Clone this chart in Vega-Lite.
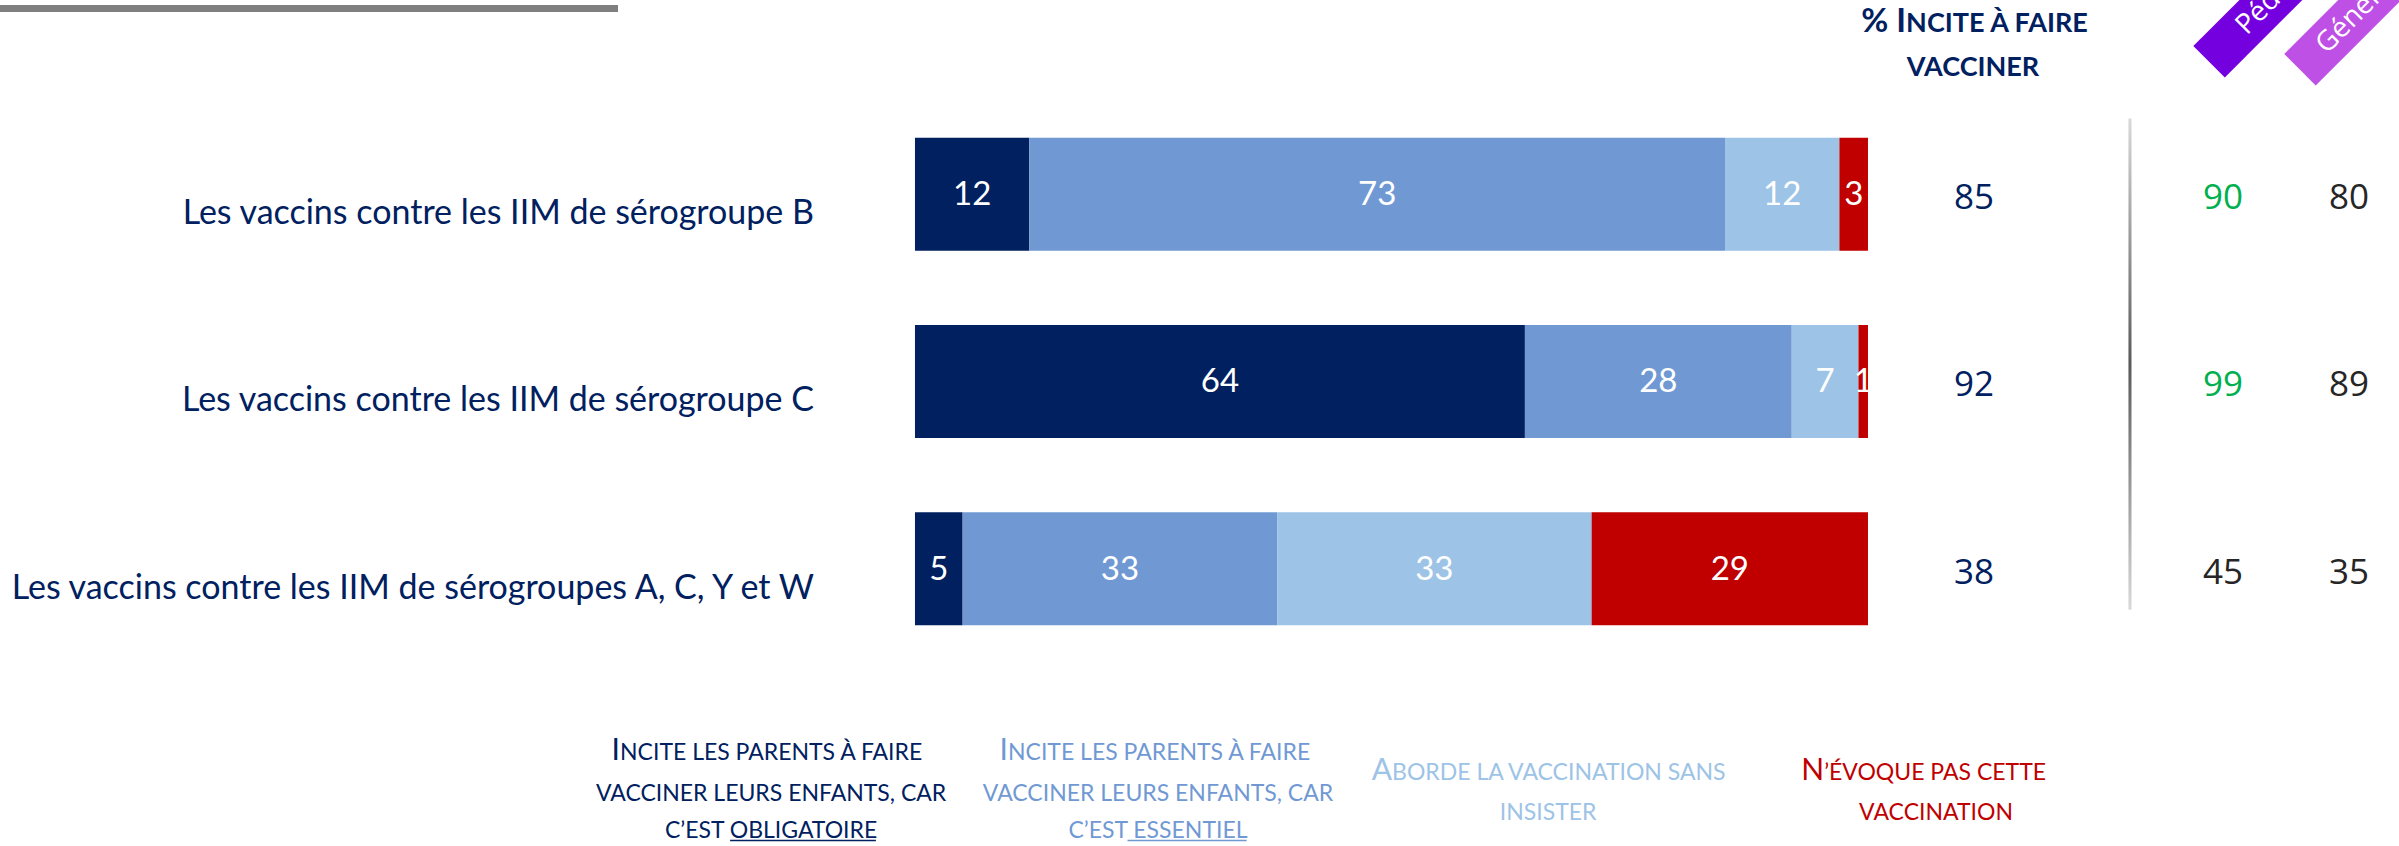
{
  "$schema": "https://vega.github.io/schema/vega-lite/v6.json",
  "width": 2399,
  "height": 846,
  "autosize": "none",
  "padding": 0,
  "background": "white",
  "config": {"view": {"stroke": null}, "axis": {"disable": true}},
  "datasets": {
    "segments": [
      {"cat": "Les vaccins contre les IIM de sérogroupe B", "row": 1, "seg": "Obligatoire", "ord": 1, "value": 12},
      {"cat": "Les vaccins contre les IIM de sérogroupe B", "row": 1, "seg": "Essentiel", "ord": 2, "value": 73},
      {"cat": "Les vaccins contre les IIM de sérogroupe B", "row": 1, "seg": "Sans insister", "ord": 3, "value": 12},
      {"cat": "Les vaccins contre les IIM de sérogroupe B", "row": 1, "seg": "N'évoque pas", "ord": 4, "value": 3},
      {"cat": "Les vaccins contre les IIM de sérogroupe C", "row": 2, "seg": "Obligatoire", "ord": 1, "value": 64},
      {"cat": "Les vaccins contre les IIM de sérogroupe C", "row": 2, "seg": "Essentiel", "ord": 2, "value": 28},
      {"cat": "Les vaccins contre les IIM de sérogroupe C", "row": 2, "seg": "Sans insister", "ord": 3, "value": 7},
      {"cat": "Les vaccins contre les IIM de sérogroupe C", "row": 2, "seg": "N'évoque pas", "ord": 4, "value": 1},
      {"cat": "Les vaccins contre les IIM de sérogroupes A, C, Y et W", "row": 3, "seg": "Obligatoire", "ord": 1, "value": 5},
      {"cat": "Les vaccins contre les IIM de sérogroupes A, C, Y et W", "row": 3, "seg": "Essentiel", "ord": 2, "value": 33},
      {"cat": "Les vaccins contre les IIM de sérogroupes A, C, Y et W", "row": 3, "seg": "Sans insister", "ord": 3, "value": 33},
      {"cat": "Les vaccins contre les IIM de sérogroupes A, C, Y et W", "row": 3, "seg": "N'évoque pas", "ord": 4, "value": 29}
    ],
    "summary": [
      {"cat": "Les vaccins contre les IIM de sérogroupe B", "row": 1, "total": 85, "pediatres": 90, "pediatres_sig": "supérieur", "generalistes": 80},
      {"cat": "Les vaccins contre les IIM de sérogroupe C", "row": 2, "total": 92, "pediatres": 99, "pediatres_sig": "supérieur", "generalistes": 89},
      {"cat": "Les vaccins contre les IIM de sérogroupes A, C, Y et W", "row": 3, "total": 38, "pediatres": 45, "pediatres_sig": "non", "generalistes": 35}
    ]
  },
  "data": {"values": [{}]},
  "encoding": {
    "x": {"type": "quantitative", "scale": {"domain": [-96.01, 155.72], "zero": false, "nice": false}},
    "y": {"type": "quantitative", "scale": {"domain": [-0.01055, 4.4538], "zero": false, "nice": false, "reverse": true}}
  },
  "layer": [
    {
      "mark": {"type": "rect", "color": "#7F7F7F"},
      "encoding": {
        "x": {"datum": -96.01, "type": "quantitative"}, "x2": {"datum": -31.16},
        "y": {"datum": -0.01055, "type": "quantitative"}, "y2": {"datum": 0.0264}
      }
    },
    {
      "data": {"name": "segments"},
      "transform": [
        {"stack": "value", "groupby": ["cat"], "sort": [{"field": "ord", "order": "ascending"}], "as": ["x0", "x1"]}
      ],
      "mark": {"type": "bar", "height": 113, "orient": "horizontal"},
      "encoding": {
        "x": {"field": "x0", "type": "quantitative"},
        "x2": {"field": "x1"},
        "y": {"field": "row", "type": "quantitative"},
        "color": {"field": "seg", "type": "nominal", "legend": null,
          "scale": {"domain": ["Obligatoire", "Essentiel", "Sans insister", "N'évoque pas"], "range": ["#002060", "#7099D4", "#9DC3E6", "#C00000"]}}
      }
    },
    {
      "data": {"name": "segments"},
      "transform": [
        {"stack": "value", "groupby": ["cat"], "sort": [{"field": "ord", "order": "ascending"}], "as": ["x0", "x1"]},
        {"fold": ["x0", "x1"], "as": ["edge_name", "edge"]},
        {"aggregate": [{"op": "mean", "field": "edge", "as": "mid"}], "groupby": ["cat", "row", "seg", "value"]}
      ],
      "mark": {"type": "text", "color": "white", "font": "Lato", "fontSize": 33, "fontWeight": 400, "baseline": "middle", "align": "center", "dy": 1},
      "encoding": {
        "x": {"field": "mid", "type": "quantitative"},
        "y": {"field": "row", "type": "quantitative"},
        "text": {"field": "value", "type": "quantitative"}
      }
    },
    {
      "data": {"name": "summary"},
      "mark": {"type": "text", "color": "#002060", "font": "Lato", "fontWeight": 400, "fontSize": 34, "align": "right", "baseline": "middle", "dy": 20},
      "encoding": {
        "x": {"datum": -10.6, "type": "quantitative"},
        "y": {"field": "row", "type": "quantitative"},
        "text": {"field": "cat", "type": "nominal"}
      }
    },
    {
      "data": {"name": "summary"},
      "mark": {"type": "text", "color": "#002060", "font": "Open Sans", "fontSize": 35, "align": "center", "baseline": "middle", "dy": 4},
      "encoding": {
        "x": {"datum": 111.13, "type": "quantitative"},
        "y": {"field": "row", "type": "quantitative"},
        "text": {"field": "total", "type": "quantitative"}
      }
    },
    {
      "data": {"name": "summary"},
      "mark": {"type": "text", "font": "Open Sans", "fontSize": 35, "align": "center", "baseline": "middle", "dy": 4},
      "encoding": {
        "x": {"datum": 137.25, "type": "quantitative"},
        "y": {"field": "row", "type": "quantitative"},
        "text": {"field": "pediatres", "type": "quantitative"},
        "color": {"condition": {"test": "datum.pediatres_sig === 'supérieur'", "value": "#00B050"}, "value": "#262626"}
      }
    },
    {
      "data": {"name": "summary"},
      "mark": {"type": "text", "color": "#262626", "font": "Open Sans", "fontSize": 35, "align": "center", "baseline": "middle", "dy": 4},
      "encoding": {
        "x": {"datum": 150.48, "type": "quantitative"},
        "y": {"field": "row", "type": "quantitative"},
        "text": {"field": "generalistes", "type": "quantitative"}
      }
    },
    {
      "mark": {"type": "rect", "fill": {"gradient": "linear", "x1": 0, "y1": 0, "x2": 0, "y2": 1, "stops": [{"offset": 0, "color": "#D9D9D9"}, {"offset": 0.5, "color": "#595959"}, {"offset": 1, "color": "#D9D9D9"}]}},
      "encoding": {
        "x": {"datum": 127.33, "type": "quantitative"}, "x2": {"datum": 127.65},
        "y": {"datum": 0.596, "type": "quantitative"}, "y2": {"datum": 3.219}
      }
    },
    {
      "mark": {"type": "point", "shape": "M0,-1L14,-1L14,1L0,1Z", "size": 1980, "angle": -45, "filled": true, "opacity": 1, "color": "#7400E0"},
      "encoding": {"x": {"datum": 135.79, "type": "quantitative"}, "y": {"datum": 0.2929, "type": "quantitative"}}
    },
    {
      "mark": {"type": "point", "shape": "M0,-1L14,-1L14,1L0,1Z", "size": 1980, "angle": -45, "filled": true, "opacity": 1, "color": "#BE50E6"},
      "encoding": {"x": {"datum": 145.33, "type": "quantitative"}, "y": {"datum": 0.3351, "type": "quantitative"}}
    },
    {
      "mark": {"type": "text", "text": "Pédiatres", "angle": -45, "align": "left", "baseline": "middle", "font": "Open Sans", "fontSize": 28, "color": "white"},
      "encoding": {"x": {"datum": 139.15, "type": "quantitative"}, "y": {"datum": 0.124, "type": "quantitative"}}
    },
    {
      "mark": {"type": "text", "text": "Généralistes", "angle": -45, "align": "left", "baseline": "middle", "font": "Open Sans", "fontSize": 28, "color": "white"},
      "encoding": {"x": {"datum": 147.54, "type": "quantitative"}, "y": {"datum": 0.2243, "type": "quantitative"}}
    },
    {
      "mark": {"type": "text", "text": "% I", "align": "right", "baseline": "alphabetic", "font": "Lato", "fontWeight": "bold", "fontSize": 33, "color": "#002060"},
      "encoding": {"x": {"datum": 104.0, "type": "quantitative"}, "y": {"datum": 0.134, "type": "quantitative"}}
    },
    {
      "mark": {"type": "text", "text": "NCITE À FAIRE", "align": "left", "baseline": "alphabetic", "font": "Lato", "fontWeight": "bold", "fontSize": 27, "color": "#002060"},
      "encoding": {"x": {"datum": 104.0, "type": "quantitative"}, "y": {"datum": 0.134, "type": "quantitative"}}
    },
    {
      "mark": {"type": "text", "text": "VACCINER", "align": "center", "baseline": "alphabetic", "font": "Lato", "fontWeight": "bold", "fontSize": 27, "color": "#002060"},
      "encoding": {"x": {"datum": 111.02, "type": "quantitative"}, "y": {"datum": 0.366, "type": "quantitative"}}
    },
    {
      "mark": {"type": "text", "text": "I", "align": "right", "baseline": "alphabetic", "font": "Lato", "fontSize": 30, "color": "#002060"},
      "encoding": {"x": {"datum": -30.95, "type": "quantitative"}, "y": {"datum": 4.021, "type": "quantitative"}}
    },
    {
      "mark": {"type": "text", "text": "NCITE LES PARENTS À FAIRE", "align": "left", "baseline": "alphabetic", "font": "Lato", "fontSize": 23, "color": "#002060"},
      "encoding": {"x": {"datum": -30.95, "type": "quantitative"}, "y": {"datum": 4.021, "type": "quantitative"}}
    },
    {
      "mark": {"type": "text", "text": "VACCINER LEURS ENFANTS, CAR", "align": "center", "baseline": "alphabetic", "font": "Lato", "fontSize": 23, "color": "#002060"},
      "encoding": {"x": {"datum": -15.1, "type": "quantitative"}, "y": {"datum": 4.242, "type": "quantitative"}}
    },
    {
      "mark": {"type": "text", "text": "C’EST OBLIGATOIRE", "align": "center", "baseline": "alphabetic", "font": "Lato", "fontSize": 23, "color": "#002060"},
      "encoding": {"x": {"datum": -15.1, "type": "quantitative"}, "y": {"datum": 4.438, "type": "quantitative"}}
    },
    {
      "mark": {"type": "rule", "color": "#002060", "strokeWidth": 1.5},
      "encoding": {"x": {"datum": -19.4, "type": "quantitative"}, "x2": {"datum": -4.1}, "y": {"datum": 4.4515, "type": "quantitative"}}
    },
    {
      "mark": {"type": "text", "text": "I", "align": "right", "baseline": "alphabetic", "font": "Lato", "fontSize": 30, "color": "#7099D4"},
      "encoding": {"x": {"datum": 9.76, "type": "quantitative"}, "y": {"datum": 4.021, "type": "quantitative"}}
    },
    {
      "mark": {"type": "text", "text": "NCITE LES PARENTS À FAIRE", "align": "left", "baseline": "alphabetic", "font": "Lato", "fontSize": 23, "color": "#7099D4"},
      "encoding": {"x": {"datum": 9.76, "type": "quantitative"}, "y": {"datum": 4.021, "type": "quantitative"}}
    },
    {
      "mark": {"type": "text", "text": "VACCINER LEURS ENFANTS, CAR", "align": "center", "baseline": "alphabetic", "font": "Lato", "fontSize": 23, "color": "#7099D4"},
      "encoding": {"x": {"datum": 25.5, "type": "quantitative"}, "y": {"datum": 4.242, "type": "quantitative"}}
    },
    {
      "mark": {"type": "text", "text": "C’EST ESSENTIEL", "align": "center", "baseline": "alphabetic", "font": "Lato", "fontSize": 23, "color": "#7099D4"},
      "encoding": {"x": {"datum": 25.5, "type": "quantitative"}, "y": {"datum": 4.438, "type": "quantitative"}}
    },
    {
      "mark": {"type": "rule", "color": "#7099D4", "strokeWidth": 1.5},
      "encoding": {"x": {"datum": 22.3, "type": "quantitative"}, "x2": {"datum": 34.8}, "y": {"datum": 4.4515, "type": "quantitative"}}
    },
    {
      "mark": {"type": "text", "text": "A", "align": "right", "baseline": "alphabetic", "font": "Lato", "fontSize": 30, "color": "#9DC3E6"},
      "encoding": {"x": {"datum": 50.06, "type": "quantitative"}, "y": {"datum": 4.126, "type": "quantitative"}}
    },
    {
      "mark": {"type": "text", "text": "BORDE LA VACCINATION SANS", "align": "left", "baseline": "alphabetic", "font": "Lato", "fontSize": 23, "color": "#9DC3E6"},
      "encoding": {"x": {"datum": 50.06, "type": "quantitative"}, "y": {"datum": 4.126, "type": "quantitative"}}
    },
    {
      "mark": {"type": "text", "text": "INSISTER", "align": "center", "baseline": "alphabetic", "font": "Lato", "fontSize": 23, "color": "#9DC3E6"},
      "encoding": {"x": {"datum": 66.43, "type": "quantitative"}, "y": {"datum": 4.343, "type": "quantitative"}}
    },
    {
      "mark": {"type": "text", "text": "N", "align": "right", "baseline": "alphabetic", "font": "Lato", "fontSize": 30, "color": "#C00000"},
      "encoding": {"x": {"datum": 95.4, "type": "quantitative"}, "y": {"datum": 4.126, "type": "quantitative"}}
    },
    {
      "mark": {"type": "text", "text": "’ÉVOQUE PAS CETTE", "align": "left", "baseline": "alphabetic", "font": "Lato", "fontSize": 23, "color": "#C00000"},
      "encoding": {"x": {"datum": 95.4, "type": "quantitative"}, "y": {"datum": 4.126, "type": "quantitative"}}
    },
    {
      "mark": {"type": "text", "text": "VACCINATION", "align": "center", "baseline": "alphabetic", "font": "Lato", "fontSize": 23, "color": "#C00000"},
      "encoding": {"x": {"datum": 107.14, "type": "quantitative"}, "y": {"datum": 4.343, "type": "quantitative"}}
    }
  ]
}
